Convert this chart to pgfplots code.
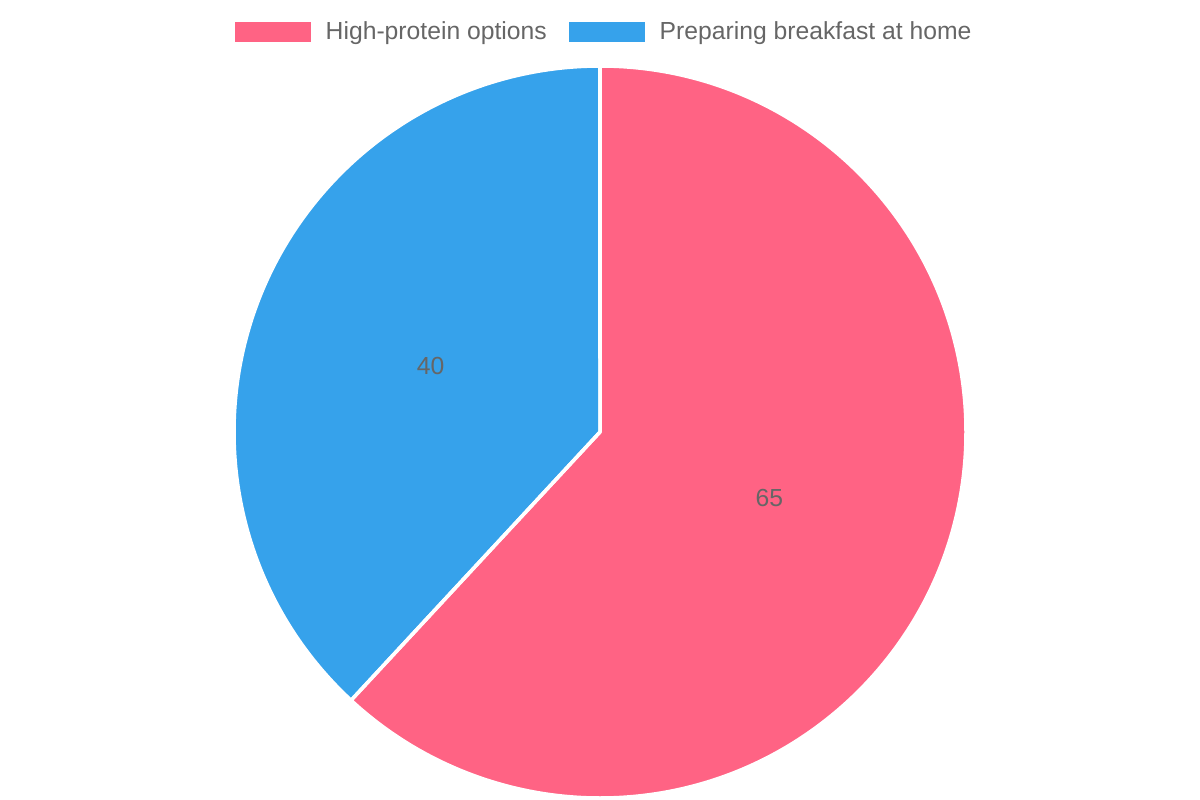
\documentclass[border=0pt]{standalone}
\usepackage{fontspec}
\setmainfont{Liberation Sans}
\usepackage{pgfplots}
\pgfplotsset{compat=1.18}
\definecolor{pinkc}{HTML}{FF6384}
\definecolor{bluec}{HTML}{36A2EB}
\definecolor{txt}{HTML}{666666}
\def\valA{65}
\def\valB{40}
\pgfmathsetmacro{\tot}{\valA+\valB}
\pgfmathsetmacro{\angA}{90-\valA/\tot*360}
\pgfmathsetmacro{\angB}{\angA-\valB/\tot*360}
\pgfmathsetmacro{\midA}{(90+\angA)/2}
\pgfmathsetmacro{\midB}{(\angA+\angB)/2}
\pgfmathsetmacro{\lxA}{600+182*cos(\midA)}
\pgfmathsetmacro{\lyA}{368+182*sin(\midA)}
\pgfmathsetmacro{\lxB}{600+182*cos(\midB)}
\pgfmathsetmacro{\lyB}{368+182*sin(\midB)}
\begin{document}
\begin{tikzpicture}[every node/.style={text=txt, font=\fontsize{7.03pt}{8pt}\selectfont, inner sep=0pt}]
\path (0,0) rectangle (12cm,8cm);
\begin{axis}[at={(0,0)}, anchor=south west, scale only axis, width=12cm, height=8cm,
  xmin=0, xmax=1200, ymin=0, ymax=800, hide axis, clip=false]
\fill[pinkc] (axis cs:600,368) -- ++(90:3.66cm) arc[start angle=90, end angle=\angA, radius=3.66cm] -- cycle;
\fill[bluec] (axis cs:600,368) -- ++(\angA:3.66cm) arc[start angle=\angA, end angle=\angB, radius=3.66cm] -- cycle;
\draw[white, line width=0.035cm, line join=round] (axis cs:600,368) -- ++(90:3.66cm) arc[start angle=90, end angle=\angA, radius=3.66cm] -- cycle;
\draw[white, line width=0.035cm, line join=round] (axis cs:600,368) -- ++(\angA:3.66cm) arc[start angle=\angA, end angle=\angB, radius=3.66cm] -- cycle;
\node at (axis cs:\lxA,\lyA) {\valA};
\node at (axis cs:\lxB,\lyB) {\valB};
% legend
\fill[pinkc] (axis cs:235,758) rectangle (axis cs:311,778);
\node[anchor=west] at (axis cs:325,766.5) {High-protein options};
\fill[bluec] (axis cs:569,758) rectangle (axis cs:645,778);
\node[anchor=west] at (axis cs:659,766.5) {Preparing breakfast at home};
\end{axis}
\end{tikzpicture}
\end{document}
